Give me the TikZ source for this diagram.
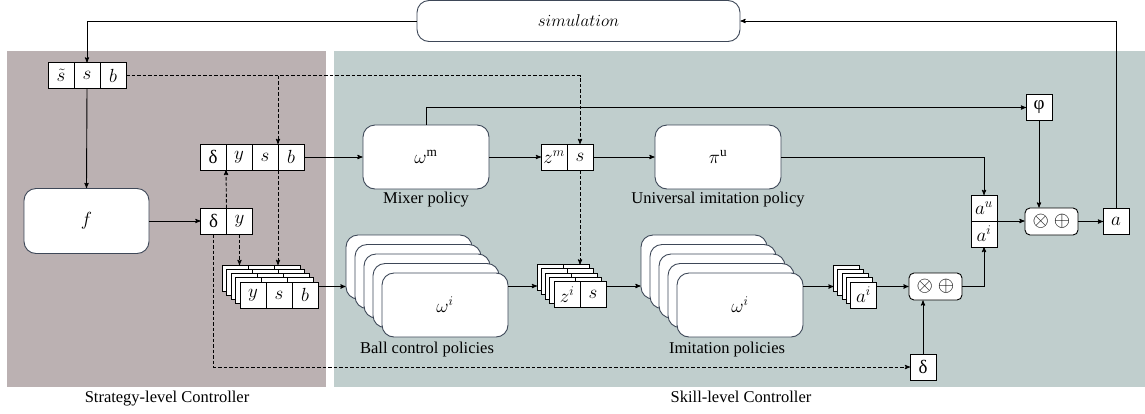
\RequirePackage{fix-cm}
\documentclass[tikz,border=0pt]{standalone}
\usepackage{fontspec}
\setmainfont{Liberation Serif}
\usepackage{tikz}
\usetikzlibrary{positioning, arrows}
\definecolor{stratbg}{RGB}{187,177,178}
\definecolor{skillbg}{RGB}{192,206,205}
\definecolor{slate}{RGB}{62,72,88}
\begin{document}
\begin{tikzpicture}[x=1pt,y=-1pt,>=stealth',line width=0.9pt,
  every node/.style={font=\fontsize{16.5}{19}\selectfont}]
\tikzstyle{cell}=[draw,fill=white,minimum width=26,minimum height=26,inner sep=0,outer sep=0,font=\fontsize{19}{22}\selectfont]
\tikzstyle{policy}=[draw=slate,fill=white,rounded corners=12,minimum width=126,minimum height=64,inner sep=0,font=\fontsize{19}{22}\selectfont]
\tikzstyle{op}=[draw,fill=white,rounded corners=5,minimum width=53,minimum height=27,inner sep=0,font=\fontsize{21}{24}\selectfont]
\tikzstyle{note}=[inner sep=0,anchor=base]
\tikzstyle{feed}=[->,dash pattern=on 3.5pt off 2pt]
\useasboundingbox (0,0) rectangle (1145,413);
% controller areas
\fill[stratbg] (7,51) rectangle (326,387);
\fill[skillbg] (334,51) rectangle (1145,387);
\node[note] (stratlbl) at (167,402) {Strategy-level Controller};
\node[note] (skilllbl) at (741,402) {Skill-level Controller};
\node[policy,minimum width=323,minimum height=41,font=\fontsize{17}{20}\selectfont] (sim) at (578.5,21) {$simulation$};
% observation
\node[cell] (obst) at (61,75.5) {$\tilde{s}$};
\node[cell] (obss) [right=0pt of obst] {$s$};
\node[cell] (obsb) [right=0pt of obss] {$b$};
% strategy
\node[policy,minimum width=125,minimum height=65] (f) at (86.5,221) {$f$};
\node[cell] (dyd) at (213.5,221) {δ};
\node[cell] (dyy) [right=0pt of dyd] {$y$};
\node[cell] (hd) at (213,157) {δ};
\node[cell] (hy) [right=0pt of hd] {$y$};
\node[cell] (hs) [right=0pt of hy] {$s$};
\node[cell] (hb) [right=0pt of hs] {$b$};
\foreach \k in {4,3,2,1}{
  \node[cell,xshift={-4.5pt*\k},yshift={4.25pt*\k}] (ky\k) at (253,295) {};
  \node[cell] (ks\k) [right=0pt of ky\k] {};
  \node[cell] (kb\k) [right=0pt of ks\k] {};
}
\node[cell] (ky0) at (253,295) {$y$};
\node[cell] (ks0) [right=0pt of ky0] {$s$};
\node[cell] (kb0) [right=0pt of ks0] {$b$};
% mixer
\node[policy] (mix) at (426,157) {$\omega^{\mathrm{m}}$};
\node[note] (mixlbl) at (426,203) {Mixer policy};
\node[cell] (zmz) at (554,157) {$z^{m}$};
\node[cell] (zms) [right=0pt of zmz] {$s$};
\node[policy] (piu) at (718,157) {$\pi^{\mathrm{u}}$};
\node[note] (piulbl) at (718,203) {Universal imitation policy};
% skills
\foreach \k in {4,3,2,1}
  \node[policy,xshift={-9pt*\k},yshift={9.5pt*\k}] (bp\k) at (445,305) {};
\node[policy] (bp0) at (445,305) {$\omega^{i}$};
\node[note] (bplbl) at (427,353) {Ball control policies};
\foreach \k in {4,3,2,1}{
  \node[cell,xshift={-4.25pt*\k},yshift={4.25pt*\k}] (zi\k) at (567,294.5) {};
  \node[cell] (zis\k) [right=0pt of zi\k] {};
}
\node[cell] (zi0) at (567,294.5) {$z^{i}$};
\node[cell] (zis0) [right=0pt of zi0] {$s$};
\foreach \k in {4,3,2,1}
  \node[policy,xshift={-9pt*\k},yshift={9.5pt*\k}] (ip\k) at (740,305) {};
\node[policy] (ip0) at (740,305) {$\omega^{i}$};
\node[note] (iplbl) at (727,353) {Imitation policies};
\foreach \k in {4,3,2,1}
  \node[cell,xshift={-4.25pt*\k},yshift={4.25pt*\k}] (ak\k) at (863.5,295) {};
\node[cell] (ak0) at (863.5,295) {$a^{i}$};
% output
\node[op] (mixi) at (935.5,286.5) {$\otimes$\hspace{5pt}$\oplus$};
\node[cell] (dl) at (923,367) {δ};
\node[cell] (au) at (984,208) {$a^{u}$};
\node[cell] (ai) [below=0pt of au] {$a^{i}$};
\node[op] (mixo) at (1051.5,221.5) {$\otimes$\hspace{5pt}$\oplus$};
\node[cell] (phi) at (1039,107.5) {φ};
\node[cell] (act) at (1116,221.5) {$a$};
% connectors
\draw[->] (sim.west) -| (obss.north);
\draw[->] (act.north) |- (sim.east);
\draw[->] (obss.south) -- (f.north);
\draw[->] (f.east) -- (dyd.west);
\draw[feed] (obsb.east) -| (zms.north);
\draw[feed] (hs.north east |- obsb.east) -- (hs.north east);
\draw[feed] (hs.south east) -- (hs.south east |- ky4.north);
\draw[feed] (dyd.north east) -- (hd.south east);
\draw[feed] (dyy.south) -- (dyy.south |- ky4.north);
\draw[feed] (dyd.south) |- (dl.west);
\draw[->] (hb.east) -- (mix.west);
\draw[->] (mix.east) -- (zmz.west);
\draw[->] (zms.east) -- (piu.west);
\draw[feed] (zms.south) -- (zms.south |- zis4.north);
\draw[->] (kb0.east |- ky2.center) -- (bp4.west |- ky2.center);
\draw[->] (bp0.east |- zi2.center) -- (zi4.west |- zi2.center);
\draw[->] (zis0.east |- zi2.center) -- (ip4.west |- zi2.center);
\draw[->] (ip0.east |- ak2.center) -- (ak4.west |- ak2.center);
\draw[->] (ak0.east |- mixi.west) -- (mixi.west);
\draw[->] (mixi.east) -| (ai.south);
\draw[->] (dl.north) -- (dl.north |- mixi.south);
\draw[->] (mix.north) |- (phi.west);
\draw[->] (phi.south) -- (phi.south |- mixo.north);
\draw[->] (piu.east) -| (au.north);
\draw[->] (au.south east) -- (au.south east -| mixo.west);
\draw[->] (mixo.east) -- (act.west);
\end{tikzpicture}
\end{document}
